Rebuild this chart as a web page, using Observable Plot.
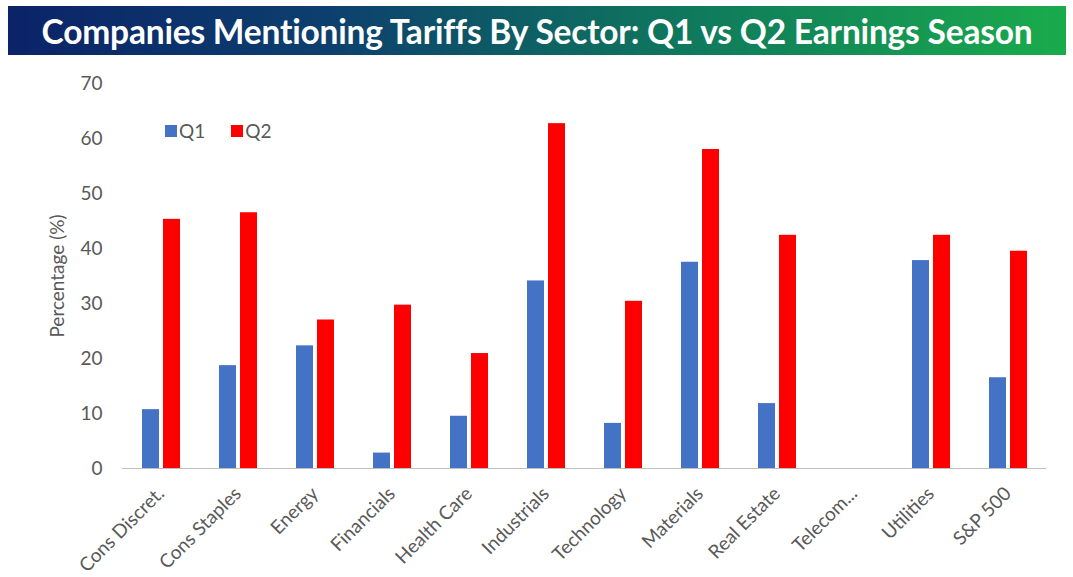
<!DOCTYPE html>
<html>
<head>
<meta charset="utf-8">
<script src="https://cdn.jsdelivr.net/npm/d3@7"></script>
<script src="https://cdn.jsdelivr.net/npm/@observablehq/plot@0.6"></script>
<style>
  html, body { margin: 0; padding: 0; background: #fff; width: 1073px; height: 577px; overflow: hidden; position: relative; }
  #title { position: absolute; left: 8px; top: 6px; width: 1058px; height: 49px;
    background: linear-gradient(90deg, #0b2368 0%, #0d3f6e 30%, #0f7a5c 65%, #1aab4c 100%);
    color: #fff; font-family: Lato, "Open Sans", sans-serif; font-weight: bold; font-size: 33.5px;
    display: flex; align-items: center; justify-content: center; letter-spacing: -0.2px; }
  #chart { position: absolute; left: 0; top: 60px; }
  #legend { position: absolute; left: 165px; top: 119px; font-family: Lato, "Open Sans", sans-serif; font-size: 19px; color: #595959; display: flex; align-items: center; }
  #legend span.sw { display: inline-block; width: 12px; height: 12px; margin-right: 2px; }
  #legend span.lab { margin-right: 26px; }
</style>
</head>
<body>
<div id="title">Companies Mentioning Tariffs By Sector: Q1 vs Q2 Earnings Season</div>
<div id="chart"></div>
<div id="legend"></div>
<script>
const sectors = ["Cons Discret.", "Cons Staples", "Energy", "Financials", "Health Care", "Industrials", "Technology", "Materials", "Real Estate", "Telecom...", "Utilities", "S&P 500"];
const quarters = ["Q1", "Q2"];
const q1Values = [10.7, 18.7, 22.3, 2.8, 9.5, 34.1, 8.2, 37.5, 11.8, null, 37.8, 16.5];
const q2Values = [45.3, 46.5, 27.0, 29.7, 20.9, 62.7, 30.4, 58.0, 42.4, null, 42.4, 39.5];
const colors = ["#4472C4", "#FF0000"];
const yTicks = [0, 10, 20, 30, 40, 50, 60, 70];

const data = [];
sectors.forEach((s, i) => {
  if (q1Values[i] != null) data.push({sector: s, quarter: "Q1", value: q1Values[i]});
  if (q2Values[i] != null) data.push({sector: s, quarter: "Q2", value: q2Values[i]});
});

const chart = Plot.plot({
  width: 1073,
  height: 517,
  marginTop: 23,
  marginBottom: 109,
  marginLeft: 120,
  marginRight: 25,
  style: {fontFamily: "Lato, 'Open Sans', sans-serif", fontSize: "19px", color: "#595959", background: "transparent", overflow: "visible"},
  fx: {domain: sectors, padding: 0, label: null},
  x: {domain: quarters, paddingInner: 0.2, paddingOuter: 0.86, axis: null},
  y: {domain: [0, 70], label: null},
  color: {domain: quarters, range: colors},
  marks: [
    Plot.axisFx({anchor: "bottom", tickRotate: -45, tickSize: 0, tickPadding: 22, label: null, fontSize: 19, fill: "#595959"}),
    Plot.axisY({ticks: yTicks, tickSize: 0, tickPadding: 20, fontSize: 19, fill: "#595959", label: "Percentage (%)", labelAnchor: "center", labelArrow: "none", labelOffset: 72, facetAnchor: "left"}),
    Plot.barY(data, {fx: "sector", x: "quarter", y: "value", fill: "quarter"}),
    Plot.ruleY(sectors, {fx: d => d, y: () => 0, stroke: "#BFBFBF", strokeWidth: 1})
  ]
});
document.getElementById("chart").appendChild(chart);

const legend = document.getElementById("legend");
quarters.forEach((q, i) => {
  const sw = document.createElement("span");
  sw.className = "sw";
  sw.style.background = colors[i];
  const lab = document.createElement("span");
  lab.className = "lab";
  lab.textContent = q;
  legend.appendChild(sw);
  legend.appendChild(lab);
});
</script>
</body>
</html>
